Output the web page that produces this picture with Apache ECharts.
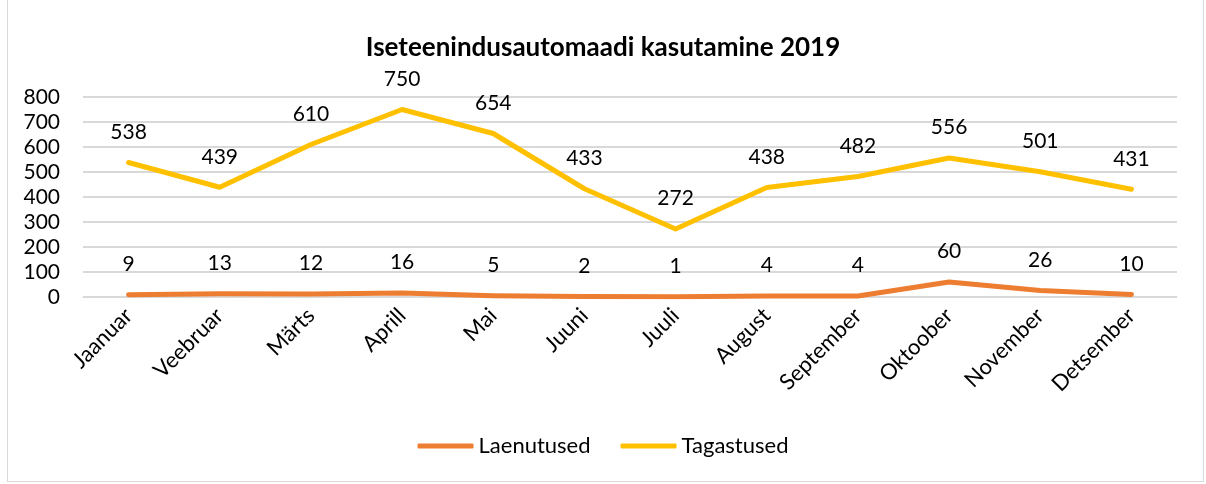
<!DOCTYPE html>
<html><head><meta charset="utf-8">
<script src="https://cdn.jsdelivr.net/npm/echarts@6/dist/echarts.min.js"></script>
<style>
html,body{margin:0;padding:0;background:#fff;}
#wrap{position:absolute;left:7px;top:0px;width:1197px;height:482px;border:1px solid #d9d9d9;border-top:none;box-sizing:border-box;}
#c{position:absolute;left:0;top:0;width:1206px;height:484px;}
</style></head>
<body>
<div id="wrap"></div>
<div id="c"></div>
<script>
const title = 'Iseteenindusautomaadi kasutamine 2019';
const categories = ['Jaanuar','Veebruar','Märts','Aprill','Mai','Juuni','Juuli','August','September','Oktoober','November','Detsember'];
const laenutused = [9,13,12,16,5,2,1,4,4,60,26,10];
const tagastused = [538,439,610,750,654,433,272,438,482,556,501,431];
const yTicks = [0,100,200,300,400,500,600,700,800];

const font = 'Lato, "Open Sans", sans-serif';
const chart = echarts.init(document.getElementById('c'), null, {renderer:'canvas'});
const lbl = {show:true,position:'top',distance:20,fontFamily:font,fontSize:21,color:'#000'};
chart.setOption({
  animation:false,
  title:{text:title,left:'center',top:30,textStyle:{fontFamily:font,fontSize:26,fontWeight:'bold',color:'#000'}},
  grid:{left:83,right:29,top:97,bottom:187,containLabel:false},
  legend:{bottom:22,left:'center',itemWidth:56,itemHeight:5,itemGap:30,
    icon:'roundRect',
    textStyle:{fontFamily:font,fontSize:22,color:'#000'},
    data:['Laenutused','Tagastused']},
  xAxis:{type:'category',data:categories,boundaryGap:true,
    axisLine:{show:true,lineStyle:{color:'#d9d9d9',width:1}},axisTick:{show:false},
    axisLabel:{rotate:45,interval:0,fontFamily:font,fontSize:22,color:'#000',margin:15}},
  yAxis:{type:'value',min:yTicks[0],max:yTicks[yTicks.length-1],interval:100,
    axisLine:{show:false},axisTick:{show:false},
    splitLine:{lineStyle:{color:'#d9d9d9',width:2}},
    axisLabel:{fontFamily:font,fontSize:21,color:'#000',margin:23}},
  series:[
    {name:'Laenutused',type:'line',data:laenutused,symbol:'circle',symbolSize:0,showSymbol:true,
      lineStyle:{color:'#ED7D31',width:5,cap:'round',join:'round'},itemStyle:{color:'#ED7D31'},
      label:lbl},
    {name:'Tagastused',type:'line',data:tagastused,symbol:'circle',symbolSize:0,showSymbol:true,
      lineStyle:{color:'#FFC000',width:5,cap:'round',join:'round'},itemStyle:{color:'#FFC000'},
      label:lbl}
  ]
});
</script>
</body></html>
